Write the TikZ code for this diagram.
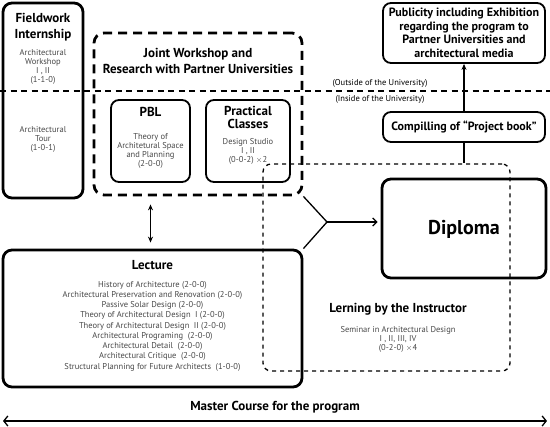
\documentclass[tikz,border=0pt]{standalone}
\usepackage{fontspec}
\setmainfont{PT Sans}
\newfontfamily\condb{PT Sans Bold}
\newfontfamily\condr{PT Sans}
\usetikzlibrary{arrows.meta}
\begin{document}
\begin{tikzpicture}[x=1pt,y=-1pt,
  thickbox/.style={draw,line width=2.8pt,rounded corners=9pt,inner sep=0pt},
  midbox/.style={draw,line width=1.8pt,rounded corners=8pt,inner sep=0pt},
  jointbox/.style={draw,line width=2.8pt,dash pattern=on 9pt off 6pt,rounded corners=10pt,inner sep=0pt},
  lernbox/.style={draw,line width=1.3pt,dash pattern=on 4pt off 4pt,rounded corners=8pt,inner sep=0pt},
  ttl/.style={font=\condb\fontsize{13}{15.5}\selectfont,align=center,inner sep=0pt},
  sml/.style={font=\condr\fontsize{8.5}{9}\selectfont,align=center,text=black!72,inner sep=0pt},
  conn/.style={line width=1.3pt},
  tip/.style={-{Stealth[length=6pt,width=5pt]}},
  dtip/.style={{Stealth[length=6pt,width=5pt]}-{Stealth[length=6pt,width=5pt]}},
  otip/.style={-{Straight Barb[length=4pt,width=8pt]}},
]
\useasboundingbox (0,0) rectangle (550,427);
% boxes
\node[thickbox,minimum width=80pt,minimum height=195pt] (field) at (43,100.5) {};
\node[jointbox,minimum width=208pt,minimum height=162pt] (joint) at (198,114) {};
\node[midbox,minimum width=79pt,minimum height=82pt] (pbl) at (150.5,141) {};
\node[midbox,minimum width=84pt,minimum height=82pt] (prac) at (248,141) {};
\node[midbox,minimum width=162pt,minimum height=60pt] (pub) at (464,33) {};
\node[midbox,minimum width=162pt,minimum height=30pt] (comp) at (464,127) {};
\node[lernbox,minimum width=247pt,minimum height=207pt] (lern) at (386.5,267.5) {};
\node[thickbox,minimum width=164pt,minimum height=99pt] (dipl) at (464,228.5) {};
\node[thickbox,minimum width=299pt,minimum height=137pt] (lect) at (152.5,318.5) {};
% dividing line
\coordinate (divL) at (0,91);
\coordinate (divR) at (550,91);
\draw[line width=2.2pt,dash pattern=on 6pt off 4.5pt] (divL) -- (divR);
% texts
\node[ttl] (fieldT) at (43,27) {Fieldwork\\Internship};
\node[sml] (fieldA) at (43,66.5) {Architectural\\Workshop\\I , II\\(1-1-0)};
\node[sml] (fieldB) at (43,139) {Architectural\\Tour\\(1-0-1)};
\node[ttl] (jointT) at (198,61) {Joint Workshop and\\Research with Partner Universities};
\node[ttl] (pblT) at (150.5,112) {PBL};
\node[sml] (pblS) at (150.5,150.5) {Theory of\\Architetural Space\\and Planning\\(2-0-0)};
\node[ttl,font=\condb\fontsize{13}{13.5}\selectfont] (pracT) at (248,117.5) {Practical\\Classes};
\node[sml] (pracS) at (248,151) {Design Studio\\I , II\\(0-0-2) $\times$2};
\node[sml,text=black] (outT) at (380,83) {(Outside of the University)};
\node[sml,text=black] (inT) at (380,99) {(Inside of the University)};
\node[ttl,font=\condb\fontsize{12}{13.5}\selectfont] (pubT) at (464,33) {Publicity including Exhibition\\regarding the program to\\Partner Universities and\\architectural media};
\node[ttl,font=\condb\fontsize{12}{14}\selectfont] (compT) at (464,127) {Compilling of “Project book”};
\node[ttl,font=\condb\fontsize{20}{24}\selectfont] (diplT) at (464,229) {Diploma};
\node[ttl] (lectT) at (152.5,265) {Lecture};
\node[sml,font=\condr\fontsize{8.5}{10.25}\selectfont] (lectS) at (152.5,326) {History of Architecture (2-0-0)\\Architectural Preservation and Renovation (2-0-0)\\Passive Solar Design (2-0-0)\\Theory of Architectural Design\ \ I (2-0-0)\\Theory of Architectural Design\ \ II (2-0-0)\\Architectural Programing\ \ (2-0-0)\\Architectural Detail\ \ (2-0-0)\\Architectural Critique\ \ (2-0-0)\\Structural Planning for Future Architects\ \ (1-0-0)};
\node[ttl] (lernT) at (398,309) {Lerning by the Instructor};
\node[sml] (lernS) at (398,339) {Seminar in Architectural Design\\I , II, III, IV\\(0-2-0) $\times$4};
% connectors
\draw[conn,tip] (comp.north) -- (pub.south);
\draw[conn] (comp.south) -- (comp.south |- lern.north);
\coordinate (J) at (327,222);
\draw[conn] (joint.south east) -- (J);
\draw[conn] (lect.north east) -- (J);
\draw[conn,otip] (J) -- ([xshift=-3pt]dipl.west |- J);
\draw[conn,dtip] ([yshift=-8pt]joint.south -| pbl.center) -- ([yshift=6pt]lect.north -| pbl.center);
\coordinate (mL) at (3,421);
\coordinate (mR) at (547,421);
\draw[conn,{Straight Barb[length=4pt,width=10pt]}-{Straight Barb[length=4pt,width=10pt]}] (mL) -- (mR);
\node[ttl] (mT) at (275,407) {Master Course for the program};
\end{tikzpicture}
\end{document}
